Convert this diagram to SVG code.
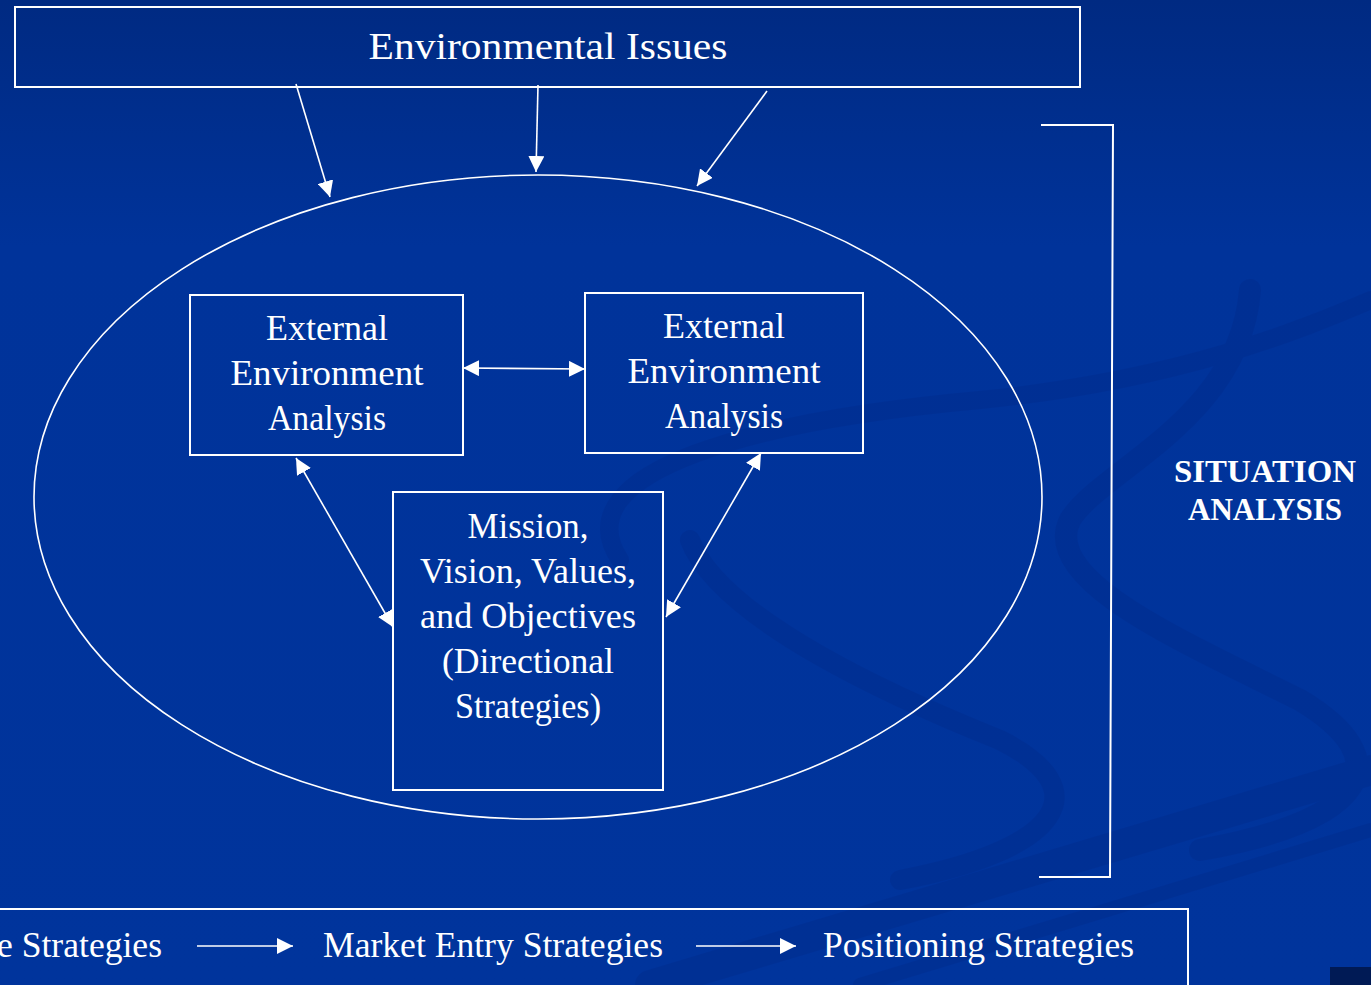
<svg xmlns="http://www.w3.org/2000/svg" width="1371" height="985" viewBox="0 0 1371 985">
<defs>
<linearGradient id="bg" x1="0" y1="0" x2="0" y2="1">
<stop offset="0" stop-color="#002a82"/>
<stop offset="0.25" stop-color="#00339a"/>
<stop offset="1" stop-color="#00349c"/>
</linearGradient>
<marker id="ahb" viewBox="0 0 10 10" refX="10" refY="5" markerWidth="16" markerHeight="16" markerUnits="userSpaceOnUse" orient="auto-start-reverse">
<path d="M0,0 L10,5 L0,10 z" fill="#ffffff"/>
</marker>
</defs>
<style>
.box{fill:none;stroke:#ffffff;stroke-width:2}
.t{font-family:"Liberation Serif","Times New Roman",serif;fill:#ffffff;text-anchor:middle}
.c{stroke:#ffffff;stroke-width:1.6;fill:none}
.sw{fill:none;stroke:#002a88;stroke-linecap:round}
</style>
<rect x="0" y="0" width="1371" height="985" fill="url(#bg)"/>
<g id="background" opacity="0.35">
<path class="sw" stroke-width="22" d="M1250,290 C1240,420 1100,470 1070,520 C1040,580 1180,640 1300,700 C1400,760 1370,820 1200,850"/>
<path class="sw" stroke-width="18" d="M620,560 C560,470 760,420 980,400 C1180,380 1300,330 1371,300"/>
<path class="sw" stroke-width="20" d="M690,540 C720,620 900,700 1000,740 C1100,790 1060,850 900,880"/>
<path class="sw" stroke-width="30" d="M650,985 L1371,770"/>
<path class="sw" stroke-width="14" d="M860,985 L1371,830"/>
</g>
<rect x="1330" y="967" width="41" height="18" fill="#001a55"/>

<g id="environmental-issues">
<rect class="box" x="15" y="7" width="1065" height="80"/>
<text class="t" x="548" y="59" font-size="38" textLength="359" lengthAdjust="spacingAndGlyphs">Environmental Issues</text>
</g>

<g id="ellipse">
<ellipse cx="538" cy="497" rx="504" ry="322" fill="none" stroke="#ffffff" stroke-width="1.6"/>
</g>

<g id="external-left">
<rect class="box" x="190" y="295" width="273" height="160"/>
<text class="t" x="327" y="340" font-size="36" textLength="122" lengthAdjust="spacingAndGlyphs">External</text>
<text class="t" x="327" y="385" font-size="36" textLength="193" lengthAdjust="spacingAndGlyphs">Environment</text>
<text class="t" x="327" y="430" font-size="36" textLength="118" lengthAdjust="spacingAndGlyphs">Analysis</text>
</g>

<g id="external-right">
<rect class="box" x="585" y="293" width="278" height="160"/>
<text class="t" x="724" y="338" font-size="36" textLength="122" lengthAdjust="spacingAndGlyphs">External</text>
<text class="t" x="724" y="383" font-size="36" textLength="193" lengthAdjust="spacingAndGlyphs">Environment</text>
<text class="t" x="724" y="428" font-size="36" textLength="118" lengthAdjust="spacingAndGlyphs">Analysis</text>
</g>

<g id="mission">
<rect class="box" x="393" y="492" width="270" height="298"/>
<text class="t" x="528" y="538" font-size="36" textLength="121" lengthAdjust="spacingAndGlyphs">Mission,</text>
<text class="t" x="528" y="583" font-size="36" textLength="216" lengthAdjust="spacingAndGlyphs">Vision, Values,</text>
<text class="t" x="528" y="628" font-size="36" textLength="216" lengthAdjust="spacingAndGlyphs">and Objectives</text>
<text class="t" x="528" y="673" font-size="36" textLength="172" lengthAdjust="spacingAndGlyphs">(Directional</text>
<text class="t" x="528" y="718" font-size="36" textLength="146" lengthAdjust="spacingAndGlyphs">Strategies)</text>
</g>

<g id="situation-analysis">
<path d="M1041,125 L1113,125 L1110,877 L1039,877" fill="none" stroke="#ffffff" stroke-width="2"/>
<text class="t" x="1265" y="482" font-size="31" font-weight="bold" textLength="182" lengthAdjust="spacingAndGlyphs">SITUATION</text>
<text class="t" x="1265" y="520" font-size="31" font-weight="bold" textLength="154" lengthAdjust="spacingAndGlyphs">ANALYSIS</text>
</g>

<g id="strategies-bar">
<path d="M-5,909 L1188,909 L1188,990" fill="none" stroke="#ffffff" stroke-width="2"/>
<text class="t" x="162" y="957" font-size="36" style="text-anchor:end" textLength="165" lengthAdjust="spacingAndGlyphs">e Strategies</text>
<text class="t" x="323" y="957" font-size="36" style="text-anchor:start" textLength="340" lengthAdjust="spacingAndGlyphs">Market Entry Strategies</text>
<text class="t" x="823" y="957" font-size="36" style="text-anchor:start" textLength="311" lengthAdjust="spacingAndGlyphs">Positioning Strategies</text>
</g>

<g id="connectors">
<line class="c" x1="296" y1="84" x2="330" y2="197" marker-end="url(#ahb)"/>
<line class="c" x1="538" y1="85" x2="536" y2="172" marker-end="url(#ahb)"/>
<line class="c" x1="767" y1="91" x2="697" y2="186" marker-end="url(#ahb)"/>
<line class="c" x1="463" y1="368" x2="585" y2="369" stroke-width="2" marker-start="url(#ahb)" marker-end="url(#ahb)"/>
<line class="c" x1="296" y1="458" x2="393" y2="627" marker-start="url(#ahb)" marker-end="url(#ahb)"/>
<line class="c" x1="761" y1="453" x2="666" y2="617" marker-start="url(#ahb)" marker-end="url(#ahb)"/>
<line class="c" x1="197" y1="946" x2="293" y2="946" stroke-width="2.5" marker-end="url(#ahb)"/>
<line class="c" x1="696" y1="946" x2="796" y2="946" stroke-width="2.5" marker-end="url(#ahb)"/>
</g>
</svg>
